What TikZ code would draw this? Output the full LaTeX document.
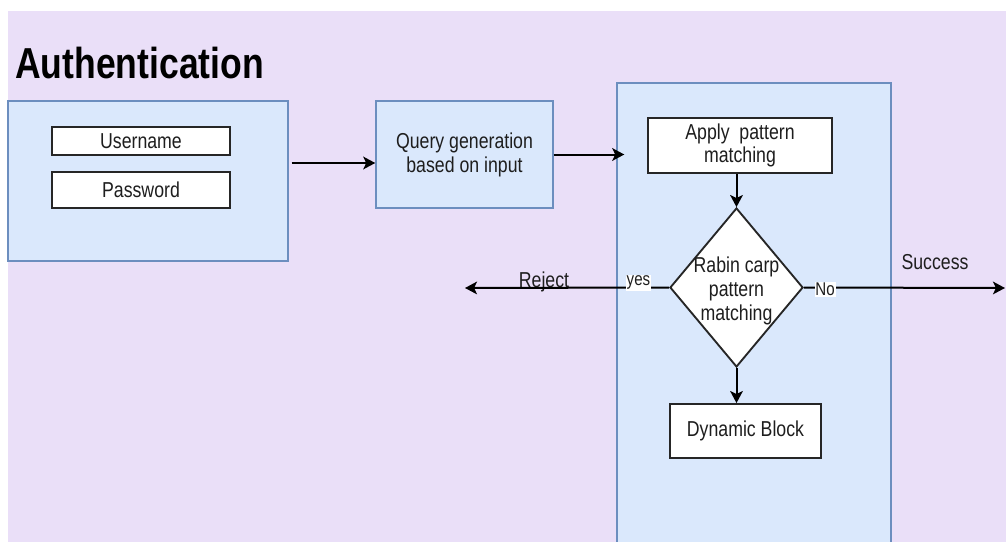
\documentclass[tikz,border=0pt]{standalone}
\usepackage{fontspec}
\setmainfont{Liberation Sans}
\newfontfamily\nsans[FakeStretch=0.82]{Liberation Sans}
\usetikzlibrary{arrows.meta,shapes.geometric,fit}
\definecolor{lav}{RGB}{234,223,248}
\definecolor{bluefill}{RGB}{218,232,252}
\definecolor{bluestroke}{RGB}{108,142,191}
\definecolor{txt}{RGB}{30,30,30}
\begin{document}
\begin{tikzpicture}[x=0.75pt,y=-0.75pt,
  every node/.style={font=\nsans\fontsize{16.2pt}{18pt}\selectfont, text=txt},
  bluebox/.style={draw=bluestroke, fill=bluefill, line width=1.1pt, inner sep=0pt},
  whitebox/.style={draw=black!85, fill=white, line width=1.4pt, inner sep=0pt, align=center},
  wh/.style 2 args={minimum width=#1*0.75pt, minimum height=#2*0.75pt},
  conn/.style={draw=black, line width=1.5pt, -{Stealth[length=9pt,width=9.5pt,inset=2.2pt]}},
  lbl/.style={fill=white, inner sep=0.6pt, font=\nsans\fontsize{13.8pt}{15pt}\selectfont}
]
\useasboundingbox (0,0) rectangle (1006,542);
\clip (0,0) rectangle (1006,542);
\fill[lav] (8,11) rectangle (1006,542);
\node[font=\nsans\bfseries\fontsize{32.5pt}{36pt}\selectfont, anchor=base west, text=black, inner sep=0pt] (title) at (15,79) {Authentication};
% left input panel
\node[bluebox, fit={(8,101)(288,261)}] (auth) {};
\node[whitebox, wh={178}{28}] (user) at (141,141) {Username};
\node[whitebox, wh={178}{36}] (pass) at (141,190) {Password};
% query
\node[bluebox, wh={177}{107}, align=center] (query) at (464.5,154.5) {Query generation\\based on input};
% matching panel
\node[bluebox, fit={(617,83)(891,560)}] (match) {};
\node[whitebox, wh={184}{55}] (apply) at (740,145.5) {Apply\ \ pattern\\[-1pt]matching};
\node[whitebox, diamond, minimum width=99.75pt, minimum height=119.25pt] (rabin) at (736.5,287.5) {};
\node[align=center, inner sep=0pt] (rabintxt) at (736.5,291) {Rabin carp\\pattern\\matching};
\node[whitebox, wh={151}{54}] (dyn) at (745.5,431) {Dynamic Block};
% outcome labels
\node[anchor=base, inner sep=0pt] (reject) at (544,287) {Reject};
\node[anchor=base, inner sep=0pt] (success) at (935,269) {Success};
\coordinate (rej) at (465,288);
\coordinate (suc) at (1005,288);
% connectors
\draw[conn] ([xshift=2.25pt]auth.east |- 0,163) -- (query.west |- 0,163);
\draw[conn] (query.east) -- ([xshift=6pt]match.west |- query.east);
\draw[conn] (apply.south -| rabin.north) -- (rabin.north);
\draw[conn] (rabin.south) -- (dyn.north -| rabin.south);
\draw[conn] (rabin.west) -- node[lbl, pos=0.15, yshift=3.5pt] (yes) {yes} (rej);
\draw[conn] (rabin.east) -- node[lbl, pos=0.105, yshift=-1.5pt] (no) {No} (suc);
\end{tikzpicture}
\end{document}
